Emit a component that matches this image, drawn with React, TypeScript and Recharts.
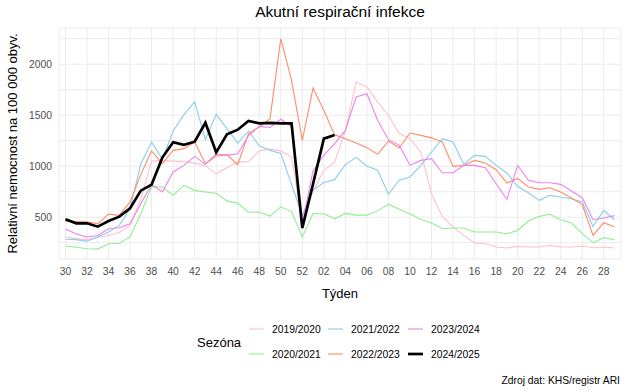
import { LineChart, Line, XAxis, YAxis, CartesianGrid } from 'recharts';

// weeks 30..52 of one year, then 01..29 of the next
const WEEKS = [
    '30', '31', '32', '33', '34', '35', '36', '37', '38', '39', '40', '41', '42', '43', '44', '45', '46', '47', '48', '49', '50', '51', '52',
    '01', '02', '03', '04', '05', '06', '07', '08', '09', '10', '11', '12', '13', '14', '15', '16', '17', '18', '19', '20',
    '21', '22', '23', '24', '25', '26', '27', '28', '29',
];

const S2019 = [305, 290, 280, 300, 320, 350, 420, 680, 1050, 1055, 1050, 1045, 1030, 1005, 925, 985, 1040, 1045, 1150, 1170, 1150, 1090, 470, 760, 960, 1040, 1350, 1825, 1776, 1629, 1500, 1320, 1270, 1140, 730, 508, 404, 322, 247, 240, 207, 198, 214, 207, 207, 224, 207, 207, 217, 201, 207, 198];
const S2020 = [217, 205, 191, 187, 240, 245, 306, 534, 800, 796, 714, 812, 763, 747, 735, 660, 638, 548, 550, 511, 602, 555, 306, 536, 533, 484, 537, 520, 520, 562, 627, 578, 532, 479, 443, 387, 394, 394, 355, 355, 355, 338, 370, 462, 508, 528, 475, 443, 338, 250, 299, 279];
const S2021 = [283, 280, 265, 306, 355, 420, 583, 1024, 1237, 1070, 1345, 1505, 1630, 1260, 1508, 1368, 1225, 1345, 1200, 1155, 1125, 820, 520, 765, 840, 868, 1015, 1087, 1000, 960, 725, 862, 895, 1008, 1139, 1270, 1237, 1018, 1106, 1096, 1008, 933, 800, 740, 665, 714, 698, 681, 649, 410, 567, 475];
const S2022 = [458, 457, 455, 435, 530, 518, 650, 920, 1149, 1025, 1155, 1172, 1237, 1025, 1100, 1113, 1015, 1320, 1384, 1466, 2250, 1841, 1253, 1766, 1547, 1307, 1270, 1227, 1181, 1116, 1247, 1178, 1325, 1302, 1278, 1237, 998, 1008, 1057, 1031, 966, 835, 880, 796, 773, 789, 747, 688, 623, 322, 446, 404];
const S2023 = [385, 335, 306, 320, 387, 397, 436, 632, 820, 747, 943, 1008, 1096, 1018, 1122, 1106, 1122, 1300, 1390, 1380, 1460, 1390, 436, 959, 1106, 1221, 1351, 1678, 1711, 1449, 1260, 1204, 1008, 1057, 1074, 936, 936, 1008, 1008, 985, 828, 675, 1008, 861, 838, 838, 822, 757, 691, 475, 492, 515];
const S2024 = [479, 440, 440, 407, 462, 505, 587, 760, 820, 1085, 1235, 1210, 1240, 1426, 1135, 1312, 1358, 1443, 1420, 1425, 1420, 1420, 394, 828, 1270, 1305];

const Y_TICKS = [250, 500, 750, 1000, 1250, 1500, 1750, 2000, 2250];
const X_TICKS = WEEKS.map((_w, i) => i).filter((i) => i % 2 === 0);

const SEASONS = [
    { key: 's2019', name: '2019/2020', color: '#FFC0CB', width: 1.1 },
    { key: 's2020', name: '2020/2021', color: '#90EE90', width: 1.1 },
    { key: 's2021', name: '2021/2022', color: '#87CEEB', width: 1.1 },
    { key: 's2022', name: '2022/2023', color: '#FF8C69', width: 1.1 },
    { key: 's2023', name: '2023/2024', color: '#EE82EE', width: 1.1 },
    { key: 's2024', name: '2024/2025', color: '#000000', width: 2.7 },
];

const data = WEEKS.map((week, i) => ({
    idx: i,
    week,
    s2019: S2019[i],
    s2020: S2020[i],
    s2021: S2021[i],
    s2022: S2022[i],
    s2023: S2023[i],
    s2024: S2024[i],
}));

const FONT = '"Liberation Sans", Arial, sans-serif';

// legend laid out like ggplot: 3 columns x 2 rows, filled by column
const LEGEND_COLS = [249, 328, 408];
const LEGEND_ROWS = [329, 354];

export default function App() {
    return (
        <div style={{ position: 'absolute', left: 0, top: 0, width: 627, height: 392, background: '#fff', fontFamily: FONT }}>
            <LineChart width={627} height={392} data={data} margin={{ top: 28, right: 6, bottom: 103, left: 0 }}>
                <CartesianGrid stroke="#EBEBEB" strokeWidth={1} />
                <XAxis
                    type="number"
                    dataKey="idx"
                    domain={[-0.6, 51.6]}
                    allowDataOverflow
                    ticks={X_TICKS}
                    tickFormatter={(v: number) => WEEKS[v]}
                    interval={0}
                    height={30}
                    axisLine={false}
                    tickLine={false}
                    tickSize={0}
                    tickMargin={9}
                    tick={{ fontSize: 10.3, fill: '#4D4D4D', fontFamily: FONT }}
                />
                <YAxis
                    type="number"
                    domain={[90, 2355]}
                    allowDataOverflow
                    ticks={Y_TICKS}
                    tickFormatter={(v: number) => (v % 500 === 0 ? String(v) : '')}
                    interval={0}
                    width={59}
                    axisLine={false}
                    tickLine={false}
                    tickSize={0}
                    tickMargin={7}
                    tick={{ fontSize: 10.3, fill: '#4D4D4D', fontFamily: FONT }}
                />
                {SEASONS.map((s) => (
                    <Line
                        key={s.key}
                        type="linear"
                        dataKey={s.key}
                        stroke={s.color}
                        strokeWidth={s.width}
                        dot={false}
                        activeDot={false}
                        isAnimationActive={false}
                    />
                ))}
            </LineChart>
            <svg width={627} height={392} style={{ position: 'absolute', left: 0, top: 0, pointerEvents: 'none' }} fontFamily={FONT}>
                <text x={340} y={17} textAnchor="middle" fontSize={15.5} fill="#000">Akutní respirační infekce</text>
                <text x={0} y={0} transform="translate(17,143.5) rotate(-90)" textAnchor="middle" fontSize={13} fill="#000">
                    Relativní nemocnost na 100 000 obyv.
                </text>
                <text x={340} y={298} textAnchor="middle" fontSize={13} fill="#000">Týden</text>
                <text x={197} y={346.5} fontSize={13} fill="#000">Sezóna</text>
                {SEASONS.map((s, i) => {
                    const cx = LEGEND_COLS[Math.floor(i / 2)];
                    const cy = LEGEND_ROWS[i % 2];
                    return (
                        <g key={s.key}>
                            <line x1={cx} x2={cx + 15} y1={cy} y2={cy} stroke={s.color} strokeWidth={s.width} />
                            <text x={cx + 23} y={cy + 3.7} fontSize={10.3} fill="#000">{s.name}</text>
                        </g>
                    );
                })}
                <text x={620} y={384} textAnchor="end" fontSize={10.3} fill="#000">Zdroj dat: KHS/registr ARI</text>
            </svg>
        </div>
    );
}
